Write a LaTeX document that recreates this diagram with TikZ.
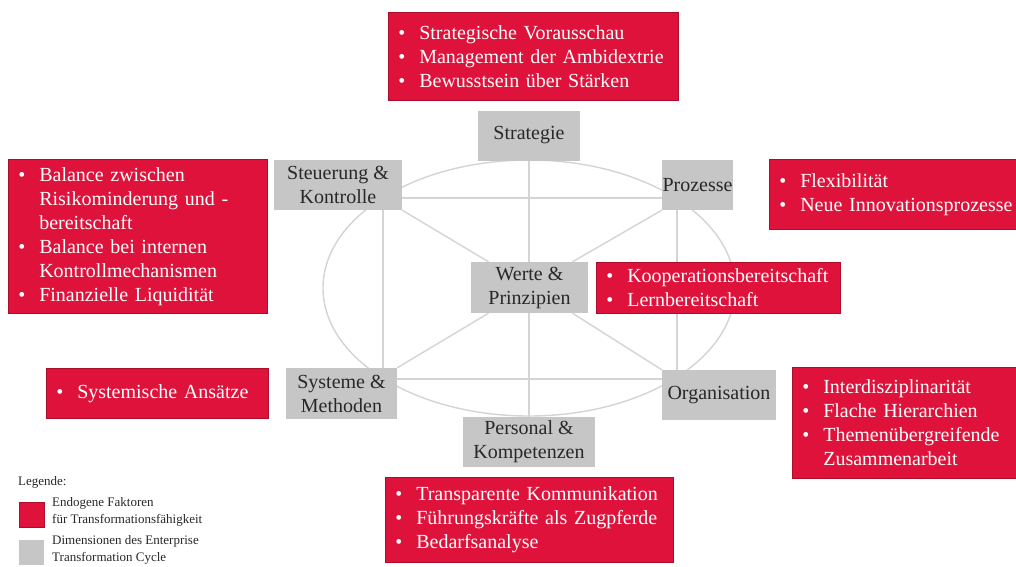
\documentclass[tikz,border=0pt]{standalone}
\usepackage{fontspec}
\setmainfont{Liberation Serif}
\usetikzlibrary{calc}
\pgfdeclarelayer{bg}
\pgfsetlayers{bg,main}
\definecolor{fred}{RGB}{222,18,58}
\definecolor{fredb}{RGB}{170,14,42}
\definecolor{dgray}{RGB}{198,198,198}
\definecolor{lgray}{RGB}{212,212,212}
\definecolor{tgray}{RGB}{40,40,40}
\newcommand\itm[1]{\mbox{\makebox[21pt][l]{\textbullet}#1}}
\newcommand\cnt[1]{\mbox{\hspace*{21pt}#1}}
\begin{document}
\begin{tikzpicture}[x=1pt,y=-1pt,
  dim/.style={fill=dgray, text=tgray, font=\fontsize{20}{24}\selectfont, align=center, inner sep=0pt},
  fac/.style={fill=fred, draw=fredb, line width=0.6pt, text=white, font=\fontsize{20}{24}\selectfont, align=left, anchor=north west, inner xsep=10pt, inner ysep=0pt},
  link/.style={draw=lgray, line width=1.4pt},
  leg/.style={font=\fontsize{13}{17}\selectfont, text=tgray, align=left, anchor=north west, inner sep=0pt},
  legbox/.style={minimum size=25pt, inner sep=0pt, anchor=north west}]
\useasboundingbox (0,0) rectangle (1016,566);

% dimensions
\node[dim, minimum width=102pt, minimum height=50pt] (strat) at (529,135.5) {Strategie};
\node[dim, minimum width=128pt, minimum height=50pt] (stk) at (338,185) {Steuerung \&\\Kontrolle};
\node[dim, minimum width=71pt, minimum height=50pt] (proz) at (697.5,185) {Prozesse};
\node[dim, minimum width=117pt, minimum height=51pt] (werte) at (529.5,287.5) {Werte \&\\Prinzipien};
\node[dim, minimum width=111pt, minimum height=51pt] (sys) at (341.5,393.5) {Systeme \&\\Methoden};
\node[dim, minimum width=114pt, minimum height=50pt] (org) at (719,395) {Organisation};
\node[dim, minimum width=132pt, minimum height=50pt] (pers) at (529,442) {Personal \&\\Kompetenzen};

% connectors and ellipse behind
\begin{pgfonlayer}{bg}
\fill[white] (0,0) rectangle (1016,566);
\draw[link] (529,288) ellipse [x radius=206pt, y radius=128pt];
\draw[link] (strat.south) -- (pers.north);
\draw[link] ($(stk.east)+(0,13)$) -- ($(proz.west)+(0,13)$);
\draw[link] ($(sys.east)+(0,-14.5)$) -- ($(org.west)+(0,-16)$);
\draw[link] ($(stk.south)+(45,0)$) -- ($(sys.north)+(41.5,0)$);
\draw[link] ($(proz.south)+(-20.5,0)$) -- ($(org.north)+(-42,0)$);
\draw[link] (stk.south east) -- ($(werte.north)+(-41,0)$);
\draw[link] (proz.south west) -- ($(werte.north)+(43,0)$);
\draw[link] ($(werte.south)+(-41,0)$) -- (sys.north east);
\draw[link] ($(werte.south)+(43,0)$) -- (org.north west);
\end{pgfonlayer}

% factors
\node[fac, text width=270pt, minimum height=88pt] (fstrat) at (388,12)
  {\itm{Strategische Vorausschau}\\\itm{Management der Ambidextrie}\\\itm{Bewusstsein über Stärken}};
\node[fac, text width=239pt, minimum height=154pt] (fstk) at (8,159)
  {\itm{Balance zwischen}\\\cnt{Risikominderung und -}\\\cnt{bereitschaft}\\\itm{Balance bei internen}\\\cnt{Kontrollmechanismen}\\\itm{Finanzielle Liquidität}};
\node[fac, text width=240pt, minimum height=70pt] (fproz) at (769,159)
  {\itm{Flexibilität}\\\itm{Neue Innovationsprozesse}};
\node[fac, text width=224pt, minimum height=51pt] (fwerte) at (596,262)
  {\itm{Kooperationsbereitschaft}\\\itm{Lernbereitschaft}};
\node[fac, text width=202pt, minimum height=50pt] (fsys) at (46,368)
  {\itm{Systemische Ansätze}};
\node[fac, text width=210pt, minimum height=111pt] (forg) at (792,367)
  {\itm{Interdisziplinarität}\\\itm{Flache Hierarchien}\\\itm{Themenübergreifende}\\\cnt{Zusammenarbeit}};
\node[fac, text width=268pt, minimum height=85pt] (fpers) at (385,477)
  {\itm{Transparente Kommunikation}\\\itm{Führungskräfte als Zugpferde}\\\itm{Bedarfsanalyse}};

% legend
\node[leg] (legt) at (18,476) {Legende:};
\node[legbox, fill=fred, draw=fredb, line width=0.6pt] (legr) at (19,502) {};
\node[leg] (legrt) at (52,497) {Endogene Faktoren\\für Transformationsfähigkeit};
\node[legbox, fill=dgray] (legg) at (19,540) {};
\node[leg] (leggt) at (52,535) {Dimensionen des Enterprise\\Transformation Cycle};
\end{tikzpicture}
\end{document}
